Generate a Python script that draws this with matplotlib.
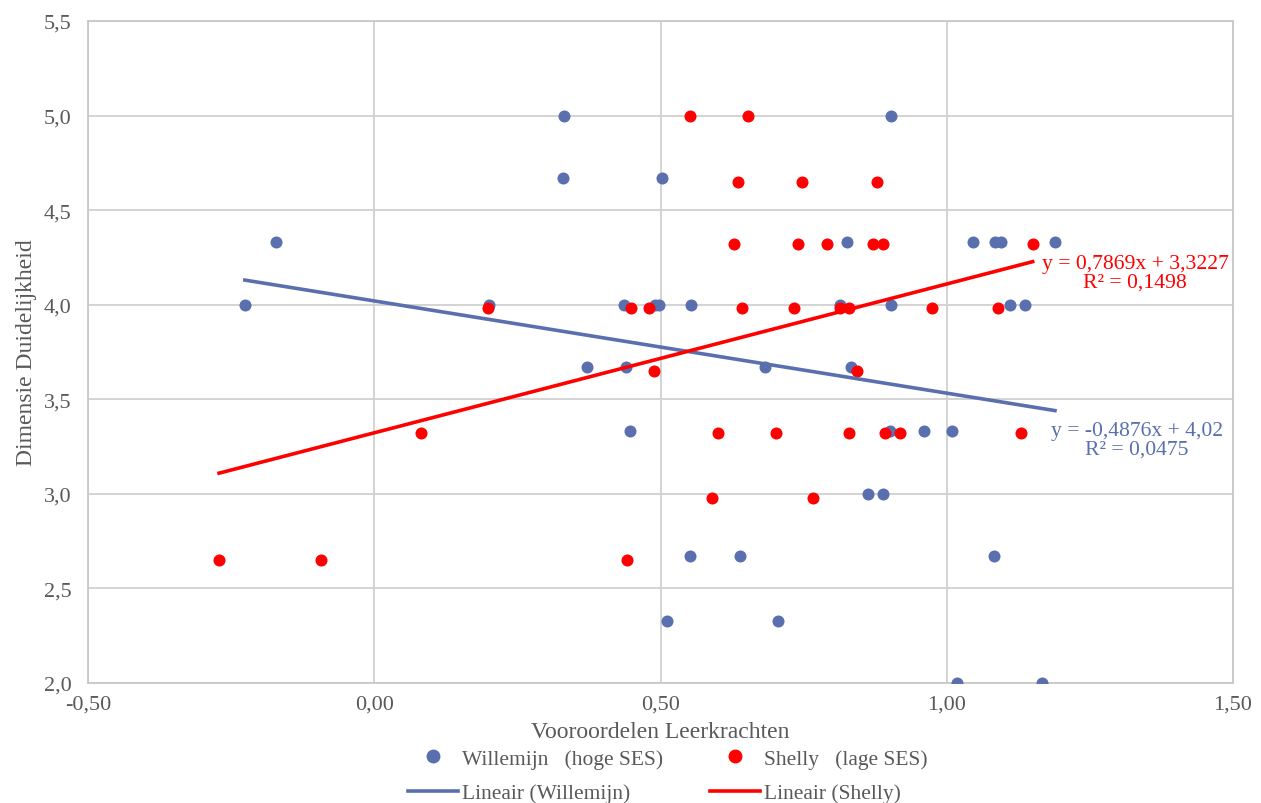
import matplotlib
matplotlib.use('Agg')
import matplotlib.pyplot as plt
import numpy as np
from matplotlib.lines import Line2D
from matplotlib.ticker import FuncFormatter

# Willemijn (hoge SES)
willemijn_x = [-0.226, -0.171, 0.332, 0.329, 0.201, 0.437, 0.490, 0.497, 0.554, 0.814, 0.903,
               1.111, 1.136, 0.372, 0.439, 0.682, 0.833, 0.825, 1.045, 1.085, 1.095, 1.189,
               0.502, 0.902, 0.446, 0.900, 0.960, 1.009, 0.862, 0.889, 0.551, 0.638, 1.082,
               0.512, 0.706, 1.018, 1.166]
willemijn_y = [4.0, 4.33, 5.0, 4.67, 4.0, 4.0, 4.0, 4.0, 4.0, 4.0, 4.0,
               4.0, 4.0, 3.67, 3.67, 3.67, 3.67, 4.33, 4.33, 4.33, 4.33, 4.33,
               4.67, 5.0, 3.33, 3.33, 3.33, 3.33, 3.0, 3.0, 2.67, 2.67, 2.67,
               2.33, 2.33, 2.0, 2.0]

# Shelly (lage SES)
shelly_x = [-0.271, -0.093, 0.442, 0.082, 0.198, 0.449, 0.480, 0.643, 0.734, 0.813, 0.830,
            0.974, 1.089, 0.488, 0.844, 0.629, 0.741, 0.790, 0.871, 0.889, 1.150,
            0.635, 0.748, 0.878, 0.551, 0.653, 0.601, 0.702, 0.830, 0.892, 0.919, 1.129,
            0.590, 0.767]
shelly_y = [2.65, 2.65, 2.65, 3.32, 3.98, 3.98, 3.98, 3.98, 3.98, 3.98, 3.98,
            3.98, 3.98, 3.65, 3.65, 4.32, 4.32, 4.32, 4.32, 4.32, 4.32,
            4.65, 4.65, 4.65, 5.0, 5.0, 3.32, 3.32, 3.32, 3.32, 3.32, 3.32,
            2.98, 2.98]

# trendlines as reported
willemijn_fit = (-0.4876, 4.02, 0.0475)
shelly_fit = (0.7869, 3.3227, 0.1498)

blue = '#5A6FAE'
red = '#FF0000'
grey_text = '#595959'

plt.rcParams['font.family'] = ['Liberation Serif', 'DejaVu Serif']

fig = plt.figure(figsize=(12.61, 8.04), dpi=100)
ax = fig.add_axes([88 / 1261, 120 / 804, 1145 / 1261, 662 / 804])

ax.set_xlim(-0.5, 1.5)
ax.set_ylim(2.0, 5.5)
ax.set_xticks(np.arange(-0.5, 1.51, 0.5))
ax.set_yticks(np.arange(2.0, 5.51, 0.5))
ax.xaxis.set_major_formatter(FuncFormatter(lambda v, p: f'{v:.2f}'.replace('.', ',')))
ax.yaxis.set_major_formatter(FuncFormatter(lambda v, p: f'{v:.1f}'.replace('.', ',')))
ax.tick_params(length=0, labelsize=16, colors=grey_text)
ax.tick_params(axis='y', pad=12)
ax.tick_params(axis='x', pad=8)
ax.grid(True, color='#D0D0D0', linewidth=1.3)
ax.set_axisbelow(True)
for sp in ax.spines.values():
    sp.set_color('#C8C8C8')
    sp.set_linewidth(1.3)

ax.scatter(willemijn_x, willemijn_y, s=75, color=blue, zorder=3, linewidths=0)
ax.scatter(shelly_x, shelly_y, s=75, color=red, zorder=3, linewidths=0)

# linear trendlines over the range of each series
for xs, (a, b, r2), col in [(willemijn_x, willemijn_fit, blue), (shelly_x, shelly_fit, red)]:
    lx = np.array([min(xs), max(xs)])
    ax.plot(lx, a * lx + b, color=col, linewidth=2.6, zorder=4)

ax.text(1.329, 4.169, 'y = 0,7869x + 3,3227\nR² = 0,1498', color=red, fontsize=15.6,
        ha='center', va='center', linespacing=0.95, zorder=5)
ax.text(1.332, 3.285, 'y = -0,4876x + 4,02\nR² = 0,0475', color=blue, fontsize=15.6,
        ha='center', va='center', linespacing=0.95, zorder=5)

ax.set_xlabel('Vooroordelen Leerkrachten', fontsize=17, color=grey_text, labelpad=6)
ax.set_ylabel('Dimensie Duidelijkheid', fontsize=17, color=grey_text, labelpad=5)

handles = [
    Line2D([], [], marker='o', linestyle='none', color=blue, markersize=9),
    Line2D([], [], color=blue, linewidth=2.6),
    Line2D([], [], marker='o', linestyle='none', color=red, markersize=9),
    Line2D([], [], color=red, linewidth=2.6),
]
labels = ['Willemijn   (hoge SES)', 'Lineair (Willemijn)',
          'Shelly   (lage SES)', 'Lineair (Shelly)']
leg = fig.legend(handles, labels, ncol=2, loc='center', bbox_to_anchor=(668 / 1261, 1 - 777 / 804),
                 frameon=False, fontsize=15.5, handlelength=2.3, handletextpad=0.2,
                 columnspacing=2.2, labelspacing=0.65, borderpad=0)
for t in leg.get_texts():
    t.set_color(grey_text)

fig.savefig('out.png', dpi=100)
